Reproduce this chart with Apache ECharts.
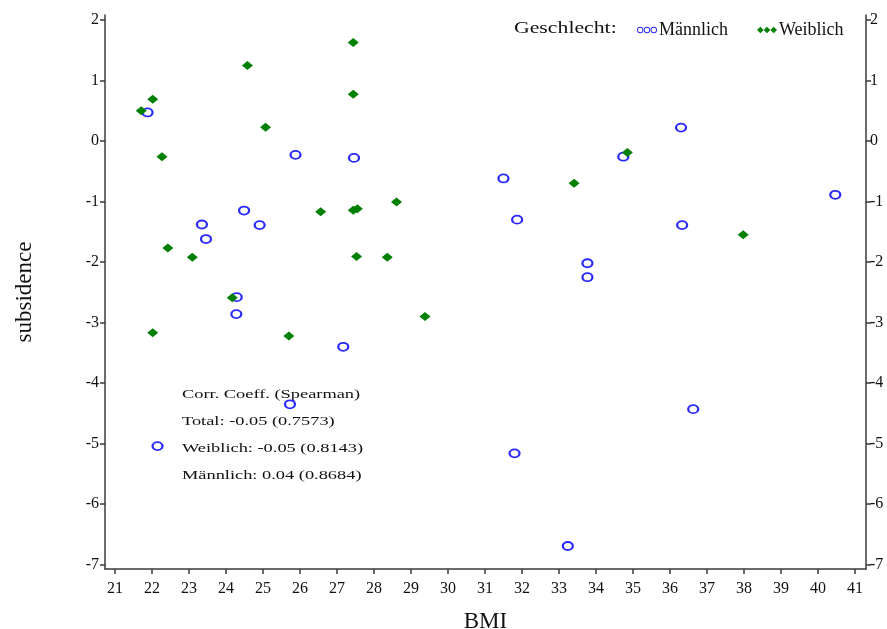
<!DOCTYPE html>
<html>
<head>
<meta charset="utf-8">
<script src="https://cdn.jsdelivr.net/npm/echarts@6/dist/echarts.min.js"></script>
<style>
  html, body { margin: 0; padding: 0; background: #fff; }
  #chart { width: 887px; height: 629px; }
</style>
</head>
<body>
<div id="chart"></div>
<script>
// BMI vs. subsidence, split by sex
const xTicks = [21, 22, 23, 24, 25, 26, 27, 28, 29, 30, 31, 32, 33, 34, 35, 36, 37, 38, 39, 40, 41];
const yTicks = [-7, -6, -5, -4, -3, -2, -1, 0, 1, 2];

const maleBMI = [21.88, 25.88, 27.46, 24.49, 23.35, 24.91, 23.46, 24.29, 24.28, 27.17, 25.73, 22.15,
                 36.30, 34.74, 31.50, 40.47, 31.87, 36.33, 33.77, 33.77, 36.63, 31.80, 33.24];
const maleSub = [0.47, -0.23, -0.28, -1.15, -1.38, -1.39, -1.62, -2.58, -2.86, -3.40, -4.35, -5.04,
                 0.22, -0.26, -0.62, -0.89, -1.30, -1.39, -2.02, -2.25, -4.43, -5.16, -6.69];

const femaleBMI = [21.71, 22.02, 24.58, 27.44, 27.44, 25.07, 22.27, 26.56, 27.44, 27.55, 28.61, 22.43,
                   23.09, 27.53, 28.36, 24.17, 22.02, 25.70, 29.38, 34.85, 33.41, 37.98];
const femaleSub = [0.50, 0.69, 1.245, 1.625, 0.77, 0.225, -0.26, -1.17, -1.145, -1.12, -1.01, -1.77,
                   -1.92, -1.91, -1.92, -2.59, -3.17, -3.22, -2.90, -0.19, -0.70, -1.55];

const statLines = [
  'Corr. Coeff. (Spearman)',
  'Total: -0.05 (0.7573)',
  'Weiblich: -0.05 (0.8143)',
  'Männlich: 0.04 (0.8684)'
];

const SERIF = '"Liberation Serif", "DejaVu Serif", serif';
const BLUE = '#2a2aff';
const GREEN = '#008000';
const AXIS = '#3a3a3a';

function pairs(xs, ys) { return xs.map((x, i) => [x, ys[i]]); }

// three-ring and three-diamond legend glyphs
function ringsPath() {
  let p = '';
  [3.5, 10.5, 17.5].forEach(c => {
    p += `M${c - 3.3},3.5 a3.3,3.3 0 1,0 6.6,0 a3.3,3.3 0 1,0 -6.6,0 Z `;
    p += `M${c - 2.4},3.5 a2.4,2.4 0 1,1 4.8,0 a2.4,2.4 0 1,1 -4.8,0 Z `;
  });
  return 'path://' + p;
}
function diamondsPath() {
  let p = '';
  [3.5, 10.5, 17.5].forEach(c => {
    p += `M${c - 3.5},3.5 L${c},0 L${c + 3.5},3.5 L${c},7 Z `;
  });
  return 'path://' + p;
}

const chart = echarts.init(document.getElementById('chart'), null, { renderer: 'canvas' });

const yAxisBase = {
  type: 'value',
  min: -7.07,
  max: 2.08,
  splitLine: { show: false },
  axisLine: { show: true, lineStyle: { color: AXIS, width: 1.5 } },
  axisTick: { show: true, length: 5, lineStyle: { color: AXIS, width: 1.5 }, customValues: yTicks },
  axisLabel: { customValues: yTicks, fontFamily: SERIF, fontSize: 16, color: '#111', margin: 6 }
};

const legendBase = {
  top: 21,
  padding: 0,
  itemWidth: 20,
  itemHeight: 7,
  selectedMode: false,
  textStyle: { fontFamily: SERIF, fontSize: 18, color: '#111', padding: [0, 0, 0, -3] }
};

chart.setOption({
  animation: false,
  backgroundColor: '#fff',
  grid: { left: 105, right: 21, top: 15, bottom: 60, containLabel: false, outerBoundsMode: 'none' },
  xAxis: {
    type: 'value',
    min: 20.73,
    max: 41.3,
    name: 'BMI',
    nameLocation: 'middle',
    nameGap: 53,
    nameTextStyle: { fontFamily: SERIF, fontSize: 23, color: '#111', verticalAlign: 'middle' },
    splitLine: { show: false },
    axisLine: { show: true, onZero: false, lineStyle: { color: AXIS, width: 1.5 } },
    axisTick: { show: true, length: 5, lineStyle: { color: AXIS, width: 1.5 }, customValues: xTicks },
    axisLabel: { customValues: xTicks, fontFamily: SERIF, fontSize: 16, color: '#111', margin: 12 }
  },
  yAxis: [
    Object.assign({}, yAxisBase, {
      position: 'left',
      name: 'subsidence',
      nameLocation: 'middle',
      nameGap: 69,
      nameRotate: 90,
      nameTextStyle: { fontFamily: SERIF, fontSize: 23, color: '#111' }
    }),
    Object.assign({}, yAxisBase, { position: 'right', axisLabel: Object.assign({}, yAxisBase.axisLabel, { margin: 4 }) })
  ],
  legend: [
    Object.assign({}, legendBase, {
      left: 637,
      data: [{ name: 'Männlich', icon: ringsPath(), itemStyle: { color: BLUE, borderWidth: 0 } }]
    }),
    Object.assign({}, legendBase, {
      left: 757,
      data: [{ name: 'Weiblich', icon: diamondsPath(), itemStyle: { color: GREEN, borderWidth: 0 } }]
    })
  ],
  graphic: [
    {
      type: 'text', x: 514, y: 20, scaleX: 1.28,
      style: { text: 'Geschlecht:', font: '17px ' + SERIF, fill: '#111' }
    }
  ].concat(statLines.map((t, i) => ({
    type: 'text', x: 182, y: 387 + i * 27.3, scaleX: 1.36,
    style: { text: t, font: '13.5px ' + SERIF, fill: '#111' }
  }))),
  series: [
    {
      name: 'Männlich',
      type: 'scatter',
      symbol: 'emptyCircle',
      symbolSize: [10, 8],
      itemStyle: { color: BLUE, borderColor: BLUE, borderWidth: 1.1, opacity: 1 },
      data: pairs(maleBMI, maleSub),
      z: 3
    },
    {
      name: 'Weiblich',
      type: 'scatter',
      symbol: 'diamond',
      symbolSize: [11, 9],
      itemStyle: { color: GREEN, opacity: 1 },
      data: pairs(femaleBMI, femaleSub),
      z: 4
    }
  ]
});
</script>
</body>
</html>
